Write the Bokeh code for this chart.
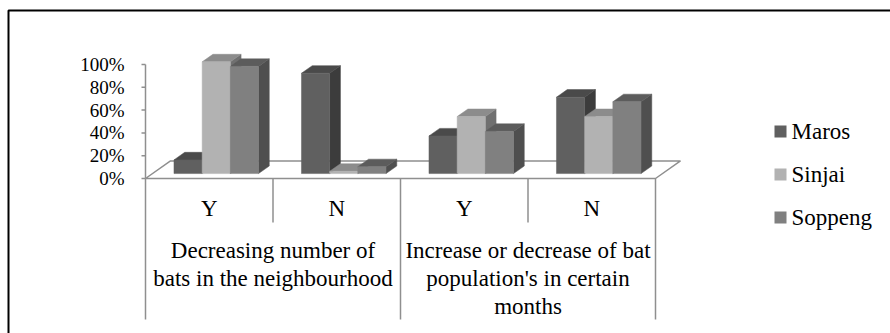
from bokeh.plotting import figure
from bokeh.models import ColumnDataSource, Range1d
from bokeh.core.properties import value
from bokeh.embed import file_html
from bokeh.resources import INLINE

# --- data -------------------------------------------------------------
categories = ["Y", "N", "Y", "N"]
group_lines = [
    ["Decreasing number of", "bats in the neighbourhood"],
    ["Increase or decrease of bat", "population's in certain", "months"],
]
series = ["Maros", "Sinjai", "Soppeng"]
maros = [12, 88, 33, 67]
sinjai = [98, 2, 50, 50]
soppeng = [94, 6, 37, 63]
y_ticks = [0, 20, 40, 60, 80, 100]
y_tick_labels = ["0%", "20%", "40%", "60%", "80%", "100%"]

# --- styling ----------------------------------------------------------
FONT = value("'Liberation Serif', 'Times New Roman', serif")
FRONT = ["#606060", "#b2b2b2", "#808080"]
TOP = ["#4a4a4a", "#8c8c8c", "#5c5c5c"]
SIDE = ["#3c3c3c", "#707070", "#4f4f4f"]
LINE_GRAY = "#8f8f8f"

W, H = 890, 333
AXIS_PX = 145.0      # x pixel of the value axis
CAT_PX = 127.5       # pixels per category
BASE_PX = 178.0      # y pixel (from top) of 0 %
PCT_PX = 1.14        # pixels per percent


def ux(px):
    return (px - AXIS_PX) / CAT_PX


def vy(py):
    return (BASE_PX - py) / PCT_PX


# floor depth vector, in data units
DX = 25.0 / CAT_PX
DY = 17.6 / PCT_PX
BAR_W = 0.221
F0, F1 = 0.28, 0.71   # bar front / back depth as a share of the floor depth

p = figure(width=W, height=H, output_backend="svg", toolbar_location=None,
           x_range=Range1d(ux(0), ux(W)), y_range=Range1d(vy(H), vy(0)),
           x_axis_type=None, y_axis_type=None, min_border=0,
           outline_line_color=None, background_fill_color="white",
           border_fill_color="white")
p.grid.visible = False

# outer chart border
p.line([ux(8), ux(8), ux(W + 20)], [vy(H + 20), vy(10), vy(10)],
       line_color="black", line_width=2)

# floor
n = len(categories)
p.patch([0, n, n + DX, DX], [0, 0, DY, DY], fill_color="white",
        line_color=LINE_GRAY, line_width=1.5)

# value axis with ticks
p.segment(x0=[0], y0=[0], x1=[0], y1=[max(y_ticks)], line_color=LINE_GRAY,
          line_width=1.5)
p.segment(x0=[ux(AXIS_PX - 4)] * len(y_ticks), y0=y_ticks, x1=[0] * len(y_ticks),
          y1=y_ticks, line_color=LINE_GRAY, line_width=1.5)
p.text(x=[ux(124)] * len(y_ticks), y=y_ticks, text=y_tick_labels,
       text_font=FONT, text_font_size="19px", text_align="right",
       text_baseline="middle", text_color="black")

# 3-D columns: right sides, tops, then fronts
values = [maros, sinjai, soppeng]
sides = dict(xs=[], ys=[], c=[])
tops = dict(xs=[], ys=[], c=[])
fronts = dict(xs=[], ys=[], c=[])
for ci in range(n):
    for si, vals in enumerate(values):
        v = vals[ci]
        x0 = ci + 0.5 - 1.5 * BAR_W + si * BAR_W + F0 * DX
        x1 = x0 + BAR_W
        b = F0 * DY
        t = b + v
        ddx = (F1 - F0) * DX
        ddy = (F1 - F0) * DY
        fronts["xs"].append([x0, x1, x1, x0])
        fronts["ys"].append([b, b, t, t])
        fronts["c"].append(FRONT[si])
        tops["xs"].append([x0, x1, x1 + ddx, x0 + ddx])
        tops["ys"].append([t, t, t + ddy, t + ddy])
        tops["c"].append(TOP[si])
        sides["xs"].append([x1, x1 + ddx, x1 + ddx, x1])
        sides["ys"].append([b, b + ddy, t + ddy, t])
        sides["c"].append(SIDE[si])
for d in (sides, tops, fronts):
    p.patches("xs", "ys", source=ColumnDataSource(d), fill_color="c",
              line_color="c", line_width=0.5)

# category table below the floor
outer_x = [0, 2, 4]
inner_x = [1, 3]
p.segment(x0=outer_x, y0=[0] * 3, x1=outer_x, y1=[vy(319)] * 3,
          line_color=LINE_GRAY, line_width=1.5)
p.segment(x0=inner_x, y0=[0] * 2, x1=inner_x, y1=[vy(222)] * 2,
          line_color=LINE_GRAY, line_width=1.5)
p.text(x=[i + 0.5 for i in range(n)], y=[vy(208)] * n, text=categories,
       text_font=FONT, text_font_size="23px", text_align="center",
       text_baseline="middle", text_color="black")
gx, gy, gt = [], [], []
for gi, lines in enumerate(group_lines):
    for li, line in enumerate(lines):
        gx.append(2 * gi + 1)
        gy.append(vy(250 + 28 * li))
        gt.append(line)
p.text(x=gx, y=gy, text=gt, text_font=FONT, text_font_size="23px",
       text_align="center", text_baseline="middle", text_color="black")

# legend
leg_y = [vy(131), vy(174), vy(217)]
p.scatter(x=[ux(780)] * 3, y=leg_y, marker="square", size=12,
          fill_color=FRONT, line_color=None)
p.text(x=[ux(791)] * 3, y=leg_y, text=series, text_font=FONT,
       text_font_size="23px", text_align="left", text_baseline="middle",
       text_color="black")

open("out.html", "w").write(file_html(p, INLINE))
